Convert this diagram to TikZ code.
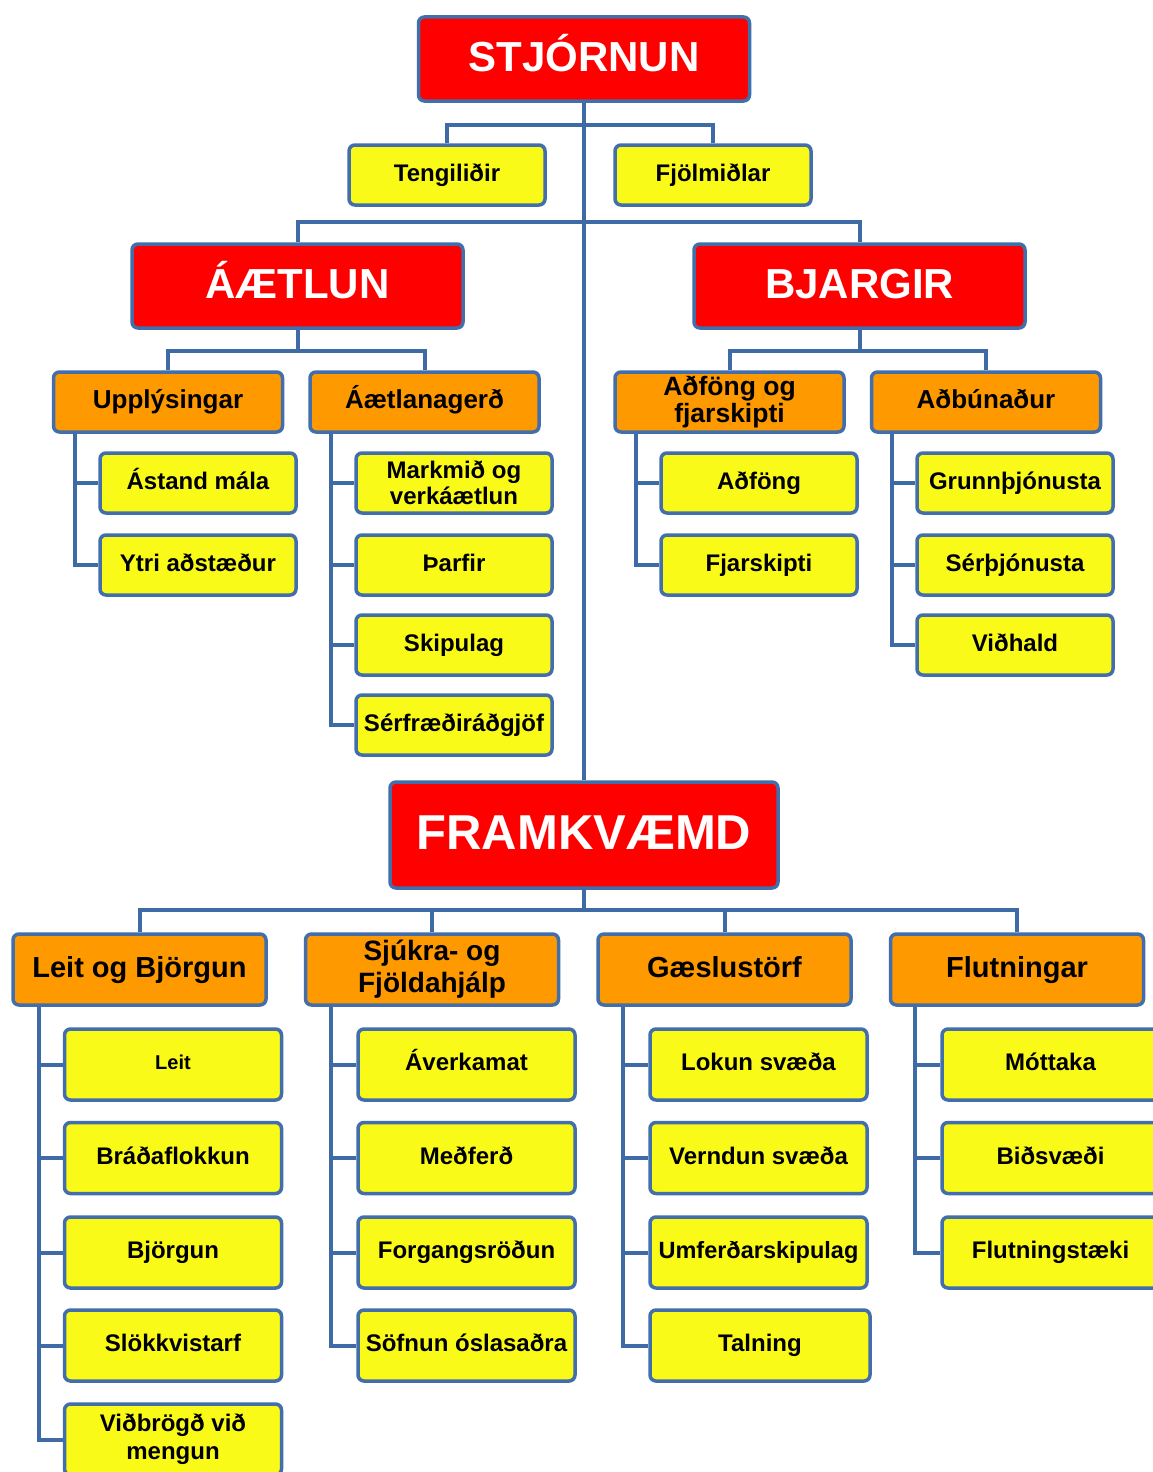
\documentclass[tikz,border=0pt]{standalone}
\usepackage{fontspec}
\setmainfont{Liberation Sans}
\definecolor{ln}{RGB}{62,106,165}
\definecolor{bd}{RGB}{66,110,172}
\definecolor{rd}{RGB}{255,0,0}
\definecolor{yl}{RGB}{250,250,25}
\definecolor{orng}{RGB}{255,153,0}
\begin{document}
\begin{tikzpicture}[x=1pt,y=-1pt,
  box/.style={draw=bd, line width=3.5pt, rounded corners=6pt, inner sep=0pt, align=center},
  fsz/.style={font=\bfseries\fontsize{#1}{#1}\selectfont, text height=#1*0.72pt, text depth=#1*0.2pt},
  multi/.style={text height={}, text depth={}},
  topbox/.style={box, fill=rd, text=white, minimum width=331pt, minimum height=84pt, fsz=42, text depth=6pt},
  subbox/.style={box, fill=yl, minimum width=196pt, minimum height=60pt, fsz=24},
  catbox/.style={box, fill=orng, minimum width=229pt, minimum height=60pt, fsz=26},
  bigcat/.style={box, fill=orng, minimum width=253pt, minimum height=71pt, fsz=29},
  leaf/.style={box, fill=yl, minimum width=217pt, minimum height=71pt, fsz=24},
  conn/.style={draw=ln, line width=4pt}
]
\clip (0,0) rectangle (1153,1472);
\fill[white] (0,0) rectangle (1153,1472);

% top levels
\node[topbox] (stj) at (584,59) {STJÓRNUN};
\node[subbox] (teng) at (447,175) {Tengiliðir};
\node[subbox] (fjol) at (713,175) {Fjölmiðlar};
\node[topbox] (aet) at (297.5,286) {ÁÆTLUN};
\node[topbox] (bja) at (859.5,286) {BJARGIR};

\node[catbox] (upp) at (168,402) {Upplýsingar};
\node[catbox] (aetg) at (424.5,402) {Áætlanagerð};
\node[catbox, multi, font=\bfseries\fontsize{26.5}{27}\selectfont] (adf) at (729.5,402) {Aðföng og\\fjarskipti};
\node[catbox] (adb) at (986,402) {Aðbúnaður};

\node[subbox] (ast) at (198,483) {Ástand mála};
\node[subbox] (ytr) at (198,565) {Ytri aðstæður};
\node[subbox, multi, font=\bfseries\fontsize{24}{26}\selectfont] (mark) at (454,483) {Markmið og\\verkáætlun};
\node[subbox] (thar) at (454,565) {Þarfir};
\node[subbox] (skip) at (454,645) {Skipulag};
\node[subbox] (serf) at (454,725) {Sérfræðiráðgjöf};
\node[subbox] (adfo) at (759,483) {Aðföng};
\node[subbox] (fjar) at (759,565) {Fjarskipti};
\node[subbox] (grun) at (1015,483) {Grunnþjónusta};
\node[subbox] (serth) at (1015,565) {Sérþjónusta};
\node[subbox] (vidh) at (1015,645) {Viðhald};

\node[topbox, minimum width=388pt, minimum height=106pt, fsz=49, text depth=7pt] (fram) at (584,835) {FRAMKVÆMD};

\node[bigcat] (leit) at (139.5,969.5) {Leit og Björgun};
\node[bigcat, multi, font=\bfseries\fontsize{28}{32}\selectfont] (sjuk) at (432,969.5) {Sjúkra- og\\Fjöldahjálp};
\node[bigcat] (gaes) at (724.5,969.5) {Gæslustörf};
\node[bigcat] (flut) at (1017,969.5) {Flutningar};

\node[leaf, fsz=20] (l1) at (173,1064.5) {Leit};
\node[leaf] (l2) at (173,1158) {Bráðaflokkun};
\node[leaf] (l3) at (173,1252.5) {Björgun};
\node[leaf] (l4) at (173,1345.5) {Slökkvistarf};
\node[leaf, multi, font=\bfseries\fontsize{24}{28}\selectfont] (l5) at (173,1439.5) {Viðbrögð við\\mengun};

\node[leaf] (s1) at (466.5,1064.5) {Áverkamat};
\node[leaf] (s2) at (466.5,1158) {Meðferð};
\node[leaf] (s3) at (466.5,1252.5) {Forgangsröðun};
\node[leaf] (s4) at (466.5,1345.5) {Söfnun óslasaðra};

\node[leaf] (g1) at (758.5,1064.5) {Lokun svæða};
\node[leaf] (g2) at (758.5,1158) {Verndun svæða};
\node[leaf, font=\bfseries\fontsize{23.5}{28}\selectfont] (g3) at (758.5,1252.5) {Umferðarskipulag};
\node[leaf, minimum width=220pt] (g4) at (760,1345.5) {Talning};

\node[leaf] (f1) at (1050.5,1064.5) {Móttaka};
\node[leaf] (f2) at (1050.5,1158) {Biðsvæði};
\node[leaf] (f3) at (1050.5,1252.5) {Flutningstæki};

% connectors
\coordinate (j1) at (584,125);
\coordinate (j2) at (584,222);
\coordinate (j3) at (297.5,351);
\coordinate (j4) at (859.5,351);
\coordinate (j5) at (584,910);
\draw[conn] (stj.south) -- (fram.north);
\draw[conn] (teng.north) |- (j1) -| (fjol.north);
\draw[conn] (aet.north) |- (j2) -| (bja.north);
\draw[conn] (aet.south) -- (j3);
\draw[conn] (upp.north) |- (j3) -| (aetg.north);
\draw[conn] (bja.south) -- (j4);
\draw[conn] (adf.north) |- (j4) -| (adb.north);
\draw[conn] (fram.south) -- (j5);
\draw[conn] (leit.north) |- (j5) -| (flut.north);
\draw[conn] (sjuk.north) |- (j5);
\draw[conn] (gaes.north) |- (j5);

\coordinate (c1) at (75,434);
\coordinate (c2) at (331,434);
\coordinate (c3) at (636,434);
\coordinate (c4) at (892,434);
\draw[conn] (c1) |- (ast.west) (c1) |- (ytr.west);
\draw[conn] (c2) |- (mark.west) (c2) |- (thar.west) (c2) |- (skip.west) (c2) |- (serf.west);
\draw[conn] (c3) |- (adfo.west) (c3) |- (fjar.west);
\draw[conn] (c4) |- (grun.west) (c4) |- (serth.west) (c4) |- (vidh.west);

\coordinate (d1) at (39,1007);
\coordinate (d2) at (331,1007);
\coordinate (d3) at (623,1007);
\coordinate (d4) at (915,1007);
\draw[conn] (d1) |- (l1.west) (d1) |- (l2.west) (d1) |- (l3.west) (d1) |- (l4.west) (d1) |- (l5.west);
\draw[conn] (d2) |- (s1.west) (d2) |- (s2.west) (d2) |- (s3.west) (d2) |- (s4.west);
\draw[conn] (d3) |- (g1.west) (d3) |- (g2.west) (d3) |- (g3.west) (d3) |- (g4.west);
\draw[conn] (d4) |- (f1.west) (d4) |- (f2.west) (d4) |- (f3.west);
\end{tikzpicture}
\end{document}
